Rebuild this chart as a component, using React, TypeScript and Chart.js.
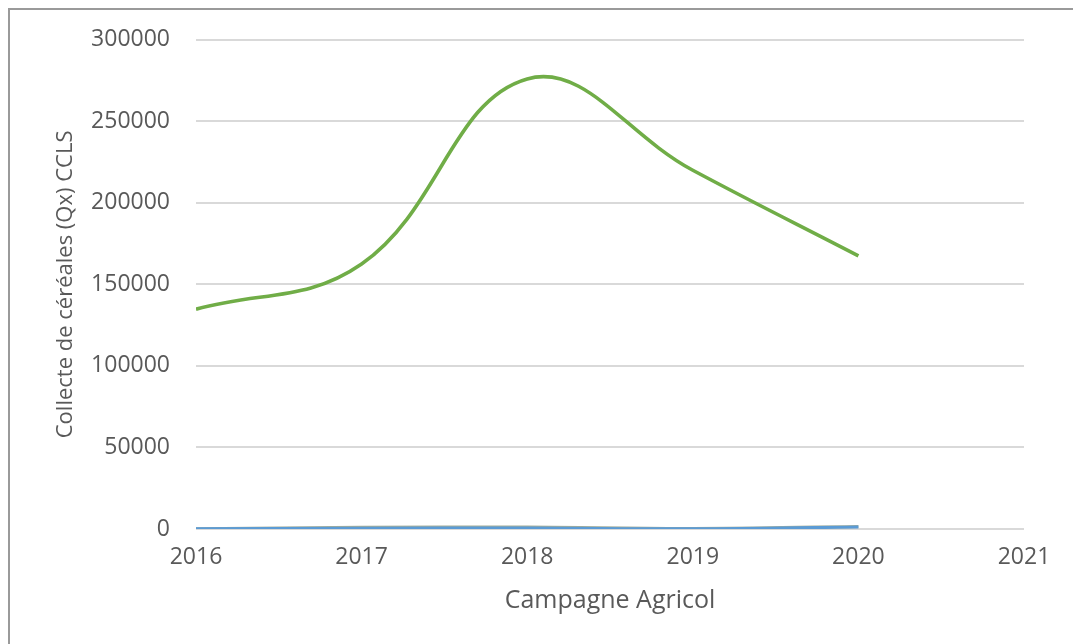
import React, { useEffect, useRef } from "react";
import { Chart, registerables } from "chart.js";

Chart.register(...registerables);

// Campagnes agricoles
const years = [2016, 2017, 2018, 2019, 2020];

// Collecte de céréales (Qx) CCLS
const collecteTotale = [134800, 162500, 276000, 220000, 167500];
const collecteSerieB = [100, 500, 650, 150, 1300];
const collecteSerieC = [150, 1100, 1200, 350, 1600];

const yTicks = [0, 50000, 100000, 150000, 200000, 250000, 300000];
const xTicks = [2016, 2017, 2018, 2019, 2020, 2021];

const FONT = "'Open Sans', 'Noto Sans', sans-serif";
const TEXT = "#595959";

export default function App() {
  const ref = useRef<HTMLCanvasElement | null>(null);

  useEffect(() => {
    if (!ref.current) return;
    const toPts = (vals: number[]) => years.map((x, i) => ({ x, y: vals[i] }));
    const chart = new Chart(ref.current, {
      type: "line",
      data: {
        datasets: [
          {
            label: "Collecte",
            data: toPts(collecteTotale),
            borderColor: "#70AD47",
            borderWidth: 3.6,
            pointRadius: 0,
            tension: 0.4,
            fill: false,
          },
          {
            label: "Série B",
            data: toPts(collecteSerieB),
            borderColor: "#5B9BD5",
            borderWidth: 3,
            pointRadius: 0,
            tension: 0.4,
            fill: false,
          },
          {
            label: "Série C",
            data: toPts(collecteSerieC),
            borderColor: "#A5AD98",
            borderWidth: 3,
            pointRadius: 0,
            tension: 0.4,
            fill: false,
          },
        ],
      },
      options: {
        animation: false,
        responsive: false,
        maintainAspectRatio: false,
        layout: { padding: { left: 53, top: 22, right: 49, bottom: 28 } },
        plugins: { legend: { display: false }, tooltip: { enabled: false } },
        scales: {
          x: {
            type: "linear",
            min: 2016,
            max: 2021,
            afterBuildTicks: (s: any) => {
              s.ticks = xTicks.map((v) => ({ value: v }));
            },
            grid: { display: false, drawTicks: false },
            border: { display: false },
            ticks: {
              color: TEXT,
              font: { family: FONT, size: 23 },
              padding: 15,
              maxRotation: 0,
              callback: (v: any) => String(v),
            },
            title: {
              display: true,
              text: "Campagne Agricol",
              color: TEXT,
              font: { family: FONT, size: 25 },
              padding: { top: 0, bottom: 0 },
            },
            afterFit: (s: any) => {
              s.height = 87;
            },
          },
          y: {
            min: 0,
            max: 300000,
            afterBuildTicks: (s: any) => {
              s.ticks = yTicks.map((v) => ({ value: v }));
            },
            grid: { color: "#D9D9D9", lineWidth: 2, drawTicks: false },
            border: { display: false },
            ticks: {
              color: TEXT,
              font: { family: FONT, size: 23 },
              padding: 26,
              callback: (v: any) => String(v),
            },
            title: {
              display: true,
              text: "Collecte de céréales (Qx) CCLS",
              color: TEXT,
              font: { family: FONT, size: 22 },
              padding: { top: 0, bottom: 0 },
            },
            afterFit: (s: any) => {
              s.width = 143;
            },
          },
        },
      },
    });
    return () => chart.destroy();
  }, []);

  return (
    <div
      style={{
        position: "absolute",
        left: 0,
        top: 0,
        width: 1073,
        height: 644,
        background: "#fff",
      }}
    >
      <div
        style={{
          position: "absolute",
          left: 8,
          top: 8,
          right: 0,
          bottom: 0,
          borderTop: "2px solid #9a9a9a",
          borderLeft: "2px solid #9a9a9a",
        }}
      />
      <canvas
        ref={ref}
        width={1073}
        height={644}
        style={{ position: "absolute", left: 0, top: 0 }}
      />
    </div>
  );
}
